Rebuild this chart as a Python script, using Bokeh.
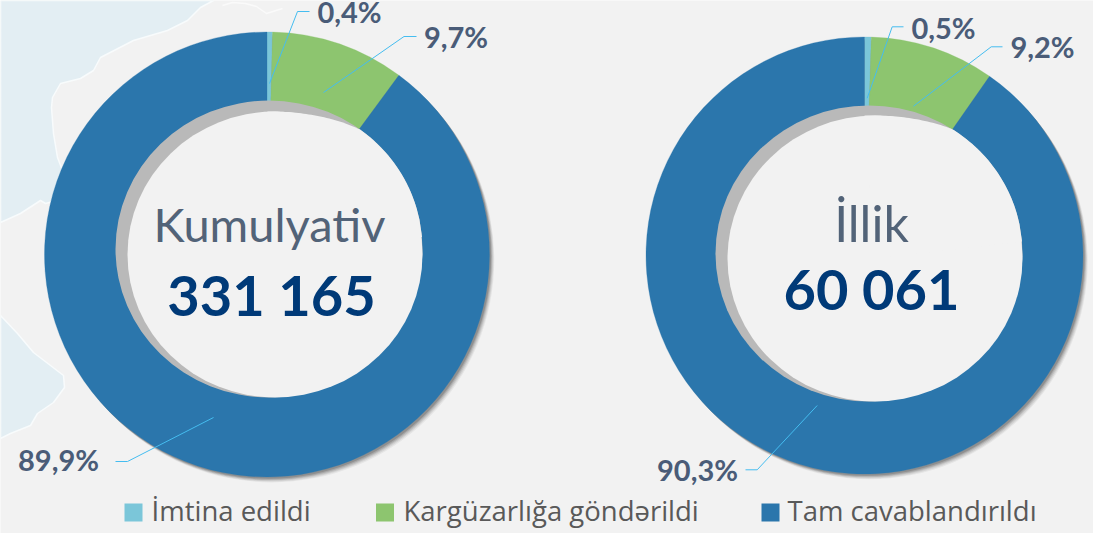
import math
from bokeh.plotting import figure
from bokeh.models import Range1d
from bokeh.core.properties import value
from bokeh.embed import file_html
from bokeh.resources import INLINE

# ---- data ----
categories = ["İmtina edildi", "Kargüzarlığa göndərildi", "Tam cavablandırıldı"]
kumulyativ_values = [0.4, 9.7, 89.9]
illik_values = [0.5, 9.2, 90.3]
kumulyativ_labels = ["0,4%", "9,7%", "89,9%"]
illik_labels = ["0,5%", "9,2%", "90,3%"]
titles = ["Kumulyativ", "İllik"]
totals = ["331 165", "60 061"]

# ---- styles / layout ----
W, H = 1093, 533
BG = "#f2f2f2"
SEA = "#e3eef3"
COLORS = ["#7bc6d9", "#8dc56f", "#2b76ac"]
GREY = "#b9b9b9"
LEADER = "#45bdf0"
LABEL = "#4a5c78"
TITLE = "#526378"
TOTAL = "#003a78"
LEGEND = "#595959"
BOLD = "Lato"
REG = "Lato"
LEG = "Open Sans"
BASE_SHIFT = 0.40  # em


def Y(v):
    return H - v


p = figure(width=W, height=H, x_range=Range1d(0, W), y_range=Range1d(0, H),
           output_backend="svg", toolbar_location=None, min_border=0,
           background_fill_color=BG,
           border_fill_color=BG, outline_line_color=None)
p.axis.visible = False
p.grid.visible = False


def label(x, base, text, font, size, color, align="center", bold=False):
    p.text([x], [Y(base - BASE_SHIFT * size)], text=[text], text_font=value(font),
           text_font_style="bold" if bold else "normal", text_font_size=f"{size}px",
           text_color=color, text_align=align, text_baseline="alphabetic")


# background map
sea1 = [(0, 0), (213, 0), (200, 7), (187, 20), (167, 30), (133, 40), (100, 57), (93, 70),
        (80, 78), (60, 83), (52, 97), (51, 107), (53, 133), (57, 157), (62, 170), (75, 195),
        (45, 203), (40, 200), (20, 213), (0, 222)]
sea2 = [(0, 315), (17, 333), (33, 352), (50, 365), (63, 375), (64, 387), (53, 402), (37, 413),
        (30, 425), (10, 433), (0, 438)]
for s in (sea1, sea2):
    p.patch([a for a, _ in s], [Y(b) for _, b in s], fill_color=SEA,
            line_color="#f8fbfc", line_width=1.5)
p.line([222, 232, 245, 256, 266, 282], [Y(5), Y(2), Y(3), Y(6), Y(13), Y(8)],
       line_color="#fafafa", line_width=1.5)

donuts = [
    dict(vals=kumulyativ_values, labs=kumulyativ_labels, title=titles[0], total=totals[0],
         cx=266.5, cy=254, r=222.5, grey=(268.5, 248.5, 307, 297), hole=(274.5, 254, 295, 286),
         taper=(267, 360, 11),
         title_pos=(269, 242, 47), total_pos=(271, 316, 56),
         label_pos=[(349, 22.5), (455.5, 47.5), (58, 471)],
         leaders=[[(269, 83), (297, 11), (309, 11)],
                  [(323, 92), (403.5, 36), (416, 36)],
                  [(213, 417), (127, 461), (115, 461)]]),
    dict(vals=illik_values, labs=illik_labels, title=titles[1], total=totals[1],
         cx=864, cy=255, r=218.5, grey=(868.5, 253, 307, 296), hole=(874.5, 258, 295, 286),
         taper=(864, 952, 10),
         title_pos=(871, 242, 50), total_pos=(871, 310, 56),
         label_pos=[(943, 38.5), (1042, 58), (697, 481)],
         leaders=[[(866.7, 97.7), (891.7, 26.3), (903, 26.3)],
                  [(913, 105.7), (990.7, 46.3), (1002, 46.3)],
                  [(816.7, 405), (756.7, 469.3), (745, 469.3)]]),
]

for d in donuts:
    cx, cy, r = d["cx"], d["cy"], d["r"]
    # soft drop shadow
    for off, alpha in [(6, 0.05), (5, 0.07), (4, 0.09), (3, 0.12), (2, 0.15)]:
        p.ellipse(cx + off * 0.8, Y(cy + off * 0.9), width=2 * r, height=2 * r,
                  fill_color="#000000", fill_alpha=alpha, line_color=None)
    # slices
    start = math.pi / 2
    for v, c in zip(d["vals"], COLORS):
        end = start - v / 100 * 2 * math.pi
        p.wedge(cx, Y(cy), radius=r, start_angle=start, end_angle=end, direction="clock",
                fill_color=c, line_color=c, line_width=0.3)
        start = end
    # inner hole with its crescent shadow
    gx, gy, gw, gh = d["grey"]
    p.ellipse(gx, Y(gy), width=gw, height=gh, fill_color=GREY, line_color=None)
    hx, hy, hw, hh = d["hole"]
    p.ellipse(hx, Y(hy), width=hw, height=hh, fill_color=BG, line_color=None)
    # the crescent thins out to nothing at the inner corner of the green slice
    x0, x1, thick = d["taper"]
    xs, ys = [], []
    right = gx + gw / 2 - 0.5
    steps = 60
    for i in range(steps + 1):
        x = x0 + (right - x0) * i / steps
        u = max(0.0, min(1.0, (x - gx) / (gw / 2)))
        top = gy - gh / 2 * math.sqrt(max(0.0, 1 - u * u))
        t = thick * (1 - ((x - x0) / (x1 - x0)) ** 2) if x < x1 else 0.0
        xs.append(x)
        ys.append(Y(top + t))
    xs.append(hx)
    ys.append(Y(hy))
    p.patch(xs, ys, fill_color=BG, line_color=None)
    # leaders and labels
    for leader in d["leaders"]:
        p.line([a for a, _ in leader], [Y(b) for _, b in leader], line_color=LEADER, line_width=1)
    for (lx, ly), t in zip(d["label_pos"], d["labs"]):
        label(lx, ly, t, BOLD, 29, LABEL, bold=True)
    tx, ty, ts = d["title_pos"]
    label(tx, ty, d["title"], REG, ts, TITLE)
    tx, ty, ts = d["total_pos"]
    label(tx, ty, d["total"], BOLD, ts, TOTAL, bold=True)

# legend
legend_sq = [124, 375.5, 761]
legend_tx = [151, 403, 787]
for sx, tx, c, name in zip(legend_sq, legend_tx, COLORS, categories):
    p.quad(left=[sx], right=[sx + 18], top=[Y(503)], bottom=[Y(521)], fill_color=c, line_color=None)
    label(tx, 521, name, LEG, 27.5, LEGEND, align="left")

open("out.html", "w").write(file_html(p, INLINE))
